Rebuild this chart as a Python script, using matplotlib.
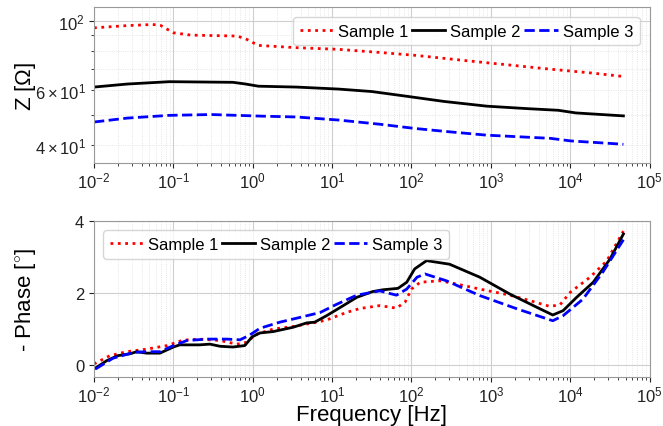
import numpy as np
import matplotlib
matplotlib.use("Agg")
import matplotlib.pyplot as plt

plt.rcParams['font.family'] = ['Liberation Sans', 'DejaVu Sans']
plt.rcParams['mathtext.fontset'] = 'custom'
plt.rcParams['mathtext.rm'] = 'Liberation Sans'
plt.rcParams['mathtext.it'] = 'Liberation Sans:italic'
plt.rcParams['mathtext.bf'] = 'Liberation Sans:bold'

labels = ["Sample 1", "Sample 2", "Sample 3"]

# impedance |Z| (log10 of frequency, ohm)
z1_logf = [-2, -1.58, -1.26, -1.16, -1.0, -0.78, -0.2, -0.09, 0.07, 0.55, 1.08, 1.61, 2.04, 2.68, 3.21, 3.75, 4.28, 4.67]
z1 = [95.2, 96.8, 97.6, 96.9, 91.8, 90.2, 89.6, 87.8, 83.6, 82.2, 81.2, 79.3, 77.7, 74.7, 72.4, 70.1, 68.1, 66.4]
z2_logf = [-2, -1.58, -1.05, -0.25, -0.09, 0.07, 0.55, 1.08, 1.5, 1.93, 2.41, 2.95, 3.48, 3.85, 4.07, 4.67]
z2 = [61.4, 62.8, 63.9, 63.6, 62.8, 61.8, 61.4, 60.5, 59.4, 57.4, 55.2, 53.3, 52.3, 51.7, 50.7, 49.6]
z3_logf = [-2, -1.58, -1.05, -0.52, 0.12, 0.55, 1.08, 1.61, 2.04, 2.47, 2.95, 3.75, 4.01, 4.67]
z3 = [47.4, 48.8, 49.8, 50.1, 49.5, 49.2, 48.1, 46.6, 45.2, 44.1, 43.0, 42.0, 41.2, 40.2]

# - phase (degrees)
p1_logf = [-2.0, -1.8, -1.59, -1.34, -1.08, -0.88, -0.67, -0.41, -0.2, -0.08, 0.05, 0.26, 0.51, 0.76, 0.93,
           1.18, 1.35, 1.6, 1.81, 1.92, 2.0, 2.11, 2.36, 2.57, 2.86, 3.24, 3.49, 3.74, 3.87, 4.0, 4.25, 4.46, 4.67]
p1 = [0.03, 0.26, 0.37, 0.44, 0.54, 0.69, 0.72, 0.68, 0.58, 0.63, 0.86, 1.0, 1.07, 1.17, 1.25,
      1.46, 1.57, 1.65, 1.58, 1.75, 2.11, 2.30, 2.34, 2.25, 2.11, 1.94, 1.79, 1.63, 1.67, 2.02, 2.44, 2.89, 3.72]
p2_logf = [-2.0, -1.84, -1.7, -1.55, -1.46, -1.34, -1.17, -1.0, -0.92, -0.67, -0.54, -0.41, -0.25, -0.1, -0.01,
           0.09, 0.26, 0.51, 0.68, 0.78, 0.93, 1.14, 1.31, 1.51, 1.64, 1.83, 1.94, 2.04, 2.19, 2.48, 2.86,
           3.24, 3.62, 3.78, 3.91, 4.08, 4.29, 4.5, 4.67]
p2 = [-0.11, 0.12, 0.26, 0.31, 0.37, 0.33, 0.33, 0.50, 0.56, 0.56, 0.58, 0.52, 0.50, 0.54, 0.78,
      0.89, 0.93, 1.05, 1.17, 1.19, 1.37, 1.65, 1.88, 2.04, 2.09, 2.13, 2.30, 2.67, 2.90, 2.80, 2.44,
      1.97, 1.56, 1.39, 1.51, 1.88, 2.30, 2.94, 3.64]
p3_logf = [-1.98, -1.76, -1.5, -1.34, -1.17, -1.0, -0.83, -0.58, -0.33, -0.16, -0.04, 0.09, 0.34, 0.59, 0.85,
           1.06, 1.31, 1.6, 1.81, 1.94, 2.07, 2.17, 2.44, 2.86, 3.33, 3.78, 3.91, 4.16, 4.41, 4.67]
p3 = [-0.11, 0.19, 0.35, 0.37, 0.37, 0.54, 0.68, 0.72, 0.72, 0.70, 0.83, 1.02, 1.19, 1.32, 1.46,
      1.69, 1.94, 2.06, 1.94, 2.11, 2.44, 2.53, 2.34, 1.93, 1.56, 1.23, 1.37, 1.83, 2.58, 3.48]

styles = [dict(color='red', linestyle=':'), dict(color='black', linestyle='-'), dict(color='blue', linestyle='--')]

fig = plt.figure(figsize=(6.63, 4.27), dpi=100)
ax1 = fig.add_axes([0.1418, 0.616, 0.838, 0.365])
ax2 = fig.add_axes([0.1418, 0.115, 0.838, 0.365])

for lf, z, lab, st in zip([z1_logf, z2_logf, z3_logf], [z1, z2, z3], labels, styles):
    ax1.plot(10 ** np.array(lf), z, lw=2, label=lab, **st)
for lf, p, lab, st in zip([p1_logf, p2_logf, p3_logf], [p1, p2, p3], labels, styles):
    ax2.plot(10 ** np.array(lf), p, lw=2, label=lab, **st)

ax1.set_xscale('log')
ax1.set_yscale('log')
ax1.set_xlim(1e-2, 1e5)
ax1.set_ylim(35, 111)
ax1.set_ylabel(r'Z [$\Omega$]', fontsize=16)

ax2.set_xscale('log')
ax2.set_xlim(1e-2, 1e5)
ax2.set_ylim(-0.33, 4)
ax2.set_yticks([0, 2, 4])
ax2.set_xlabel('Frequency [Hz]', fontsize=16, labelpad=0)
ax2.set_ylabel(r'- Phase [$^{\circ}$]', fontsize=16)

for ax in (ax1, ax2):
    ax.xaxis.set_major_locator(matplotlib.ticker.LogLocator(base=10, numticks=10))
    ax.xaxis.set_minor_locator(matplotlib.ticker.LogLocator(base=10, subs=np.arange(2, 10), numticks=20))
    ax.grid(which='major', color='#cfcfcf', lw=0.8)
    ax.grid(which='minor', color='#dedede', lw=0.6, linestyle=':')
    ax.tick_params(which='both', labelsize=12, colors='#222222')
    ax.tick_params(axis='x', which='major', pad=2)
    for sp in ax.spines.values():
        sp.set_color('#999999')

ax1.legend(loc='upper right', ncol=3, fontsize=12, handlelength=2.0, handletextpad=0.3,
           columnspacing=0.2, borderaxespad=0.6, edgecolor='#cccccc')
ax2.legend(loc='upper left', ncol=3, fontsize=12, handlelength=2.0, handletextpad=0.3,
           columnspacing=0.2, borderaxespad=0.55, edgecolor='#cccccc')

ax1.yaxis.set_label_coords(-0.1, 0.5)
ax2.yaxis.set_label_coords(-0.1, 0.5)

plt.savefig('out.png', dpi=100)
